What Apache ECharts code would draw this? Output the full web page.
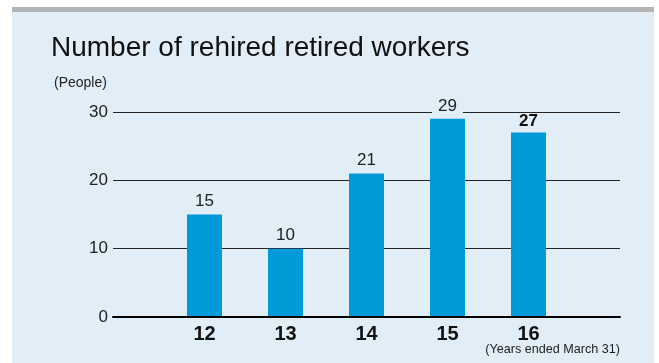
<!DOCTYPE html>
<html>
<head>
<meta charset="utf-8">
<style>
  html, body { margin: 0; padding: 0; background: #ffffff; }
  #chart { width: 659px; height: 363px; }
</style>
<script src="https://cdn.jsdelivr.net/npm/echarts@6/dist/echarts.min.js"></script>
</head>
<body>
<div id="chart"></div>
<script>
// Fiscal years (ended March 31) and rehired retirees per year
const years = ['12', '13', '14', '15', '16'];
const rehired = [15, 10, 21, 29, 27];
const yTicks = [0, 10, 20, 30];

const FONT = '"Liberation Sans", Arial, Helvetica, sans-serif';
const PANEL = '#e1eef7';
const BAR = '#009ada';
const INK = '#222222';

const chart = echarts.init(document.getElementById('chart'), null, { renderer: 'canvas' });

const barData = rehired.map((v, i) => {
  const item = { value: v };
  if (i === rehired.length - 1) {
    item.label = { fontWeight: 'bold', color: '#111', distance: 3 };
  }
  if (v === Math.max(...rehired)) {
    // keep the 30 gridline from running through the label
    item.label = { backgroundColor: PANEL, padding: [0, 6], lineHeight: 18, distance: 4 };
  }
  return item;
});

chart.setOption({
  animation: false,
  backgroundColor: '#ffffff',
  textStyle: { fontFamily: FONT },
  graphic: [
    { type: 'rect', z: -10, shape: { x: 12, y: 7, width: 642, height: 356 }, style: { fill: PANEL } },
    { type: 'rect', z: -9, shape: { x: 12, y: 7, width: 642, height: 5 }, style: { fill: '#b4b4b4' } },
    { type: 'text', left: 51, top: 34, style: { text: 'Number of rehired retired workers', font: '28px ' + FONT, fill: '#111' } },
    { type: 'text', left: 54, top: 76, style: { text: '(People)', font: '14px ' + FONT, fill: INK } },
    { type: 'text', right: 39, top: 343, style: { text: '(Years ended March 31)', font: '12.6px ' + FONT, fill: INK } }
  ],
  grid: [
    { left: 113, right: 39, top: 112, bottom: 46 },
    { left: 164, width: 405, top: 112, bottom: 46 }
  ],
  xAxis: [
    {
      gridIndex: 0, type: 'value', min: 0, max: 1, z: 5,
      axisLine: { show: true, lineStyle: { color: '#000', width: 2 } },
      axisTick: { show: false }, axisLabel: { show: false }, splitLine: { show: false }
    },
    {
      gridIndex: 1, type: 'category', data: years,
      axisLine: { show: false }, axisTick: { show: false },
      axisLabel: { fontSize: 20, fontWeight: 'bold', color: '#111', margin: 7 }
    }
  ],
  yAxis: [
    {
      gridIndex: 0, type: 'value', min: yTicks[0], max: yTicks[yTicks.length - 1], interval: 10,
      axisLine: { show: false }, axisTick: { show: false },
      axisLabel: { fontSize: 17, color: INK, margin: 5 },
      splitLine: { lineStyle: { color: INK, width: 1 } }
    },
    {
      gridIndex: 1, type: 'value', min: yTicks[0], max: yTicks[yTicks.length - 1], interval: 10,
      show: false
    }
  ],
  series: [{
    type: 'bar',
    xAxisIndex: 1, yAxisIndex: 1,
    data: barData,
    barWidth: 35,
    itemStyle: { color: BAR },
    label: { show: true, position: 'top', distance: 5, fontSize: 17, color: INK }
  }]
});
</script>
</body>
</html>
